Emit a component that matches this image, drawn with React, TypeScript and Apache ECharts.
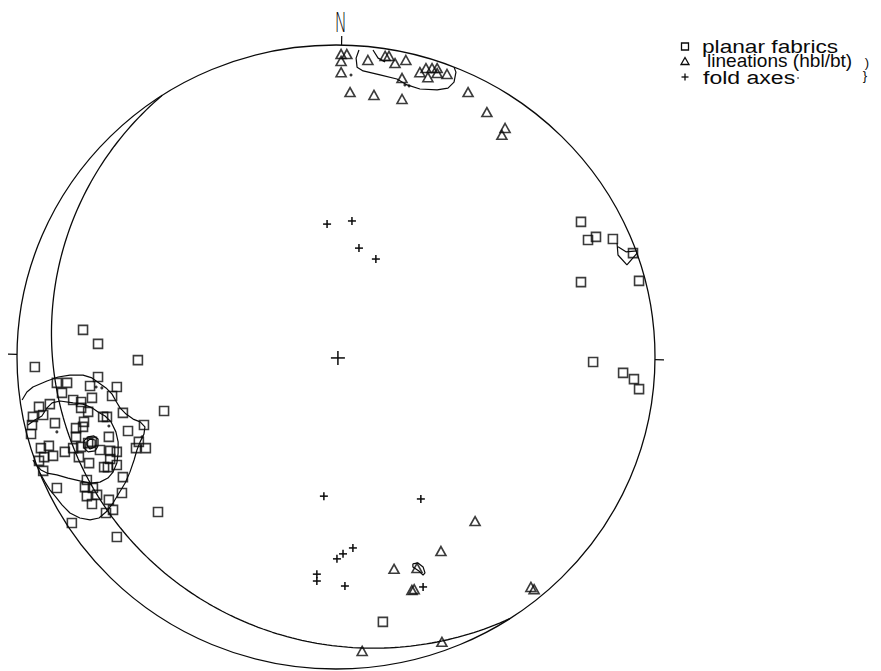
import { useEffect, useRef } from "react";
import * as echarts from "echarts";

// Projected stereonet coordinates, in percent of the primitive radius (x = east, y = north)
const planarFabrics: number[][] = [
  [-79.3, 8.7], [-74.6, 4.2], [-94.4, -3.2], [-62.1, -1.0], [-74.6, -6.4], [-87.5, -8.3], [-84.3, -8.3], [-77.1, -9.3], [-68.7, -9.6], [-85.9, -11.5],
  [-70.2, -12.5], [-76.5, -13.1], [-82.4, -13.8], [-79.9, -14.4], [-93.1, -16.0], [-89.7, -15.1], [-79.9, -16.3], [-77.7, -17.6], [-53.9, -17.3], [-66.8, -17.9],
  [-95.0, -19.2], [-91.8, -18.6], [-73.0, -19.2], [-71.8, -19.2], [-88.1, -21.2], [-79.0, -20.8], [-95.3, -21.8], [-81.5, -22.8], [-79.3, -22.4], [-65.2, -23.7],
  [-60.2, -21.8], [-95.6, -24.7], [-71.2, -25.6], [-81.5, -25.6], [-77.7, -27.6], [-76.5, -27.2], [-61.8, -27.2], [-92.5, -29.2], [-90.0, -28.5], [-85.0, -30.4],
  [-82.4, -29.2], [-79.9, -28.8], [-74.0, -29.8], [-70.8, -30.1], [-68.7, -30.4], [-62.7, -29.2], [-59.6, -29.2], [-91.5, -32.1], [-88.7, -31.7], [-80.6, -32.1],
  [-70.8, -32.7], [-93.1, -33.3], [-77.4, -34.0], [-72.7, -35.3], [-71.5, -35.3], [-68.7, -34.6], [-91.8, -36.5], [-66.8, -38.5], [-78.1, -39.4], [-87.5, -42.0],
  [-78.7, -41.7], [-76.2, -42.0], [-67.1, -43.6], [-78.1, -44.6], [-74.9, -44.2], [-76.5, -47.1], [-71.2, -45.8], [-69.9, -49.0], [-72.1, -50.0], [-55.8, -49.7],
  [-82.8, -53.2], [-68.7, -57.7],
  [76.8, 43.3], [79.0, 37.5], [81.5, 38.5], [86.8, 37.8], [93.1, 33.3], [95.0, 24.4], [76.8, 24.0], [80.6, -1.6], [90.0, -5.1], [93.4, -7.1], [95.0, -10.3],
  [14.7, -84.9],
];

const lineations: number[][] = [
  [1.6, 97.1], [3.4, 97.1], [1.6, 94.9], [1.6, 91.3], [10.0, 95.2], [15.4, 96.5], [16.6, 96.5], [18.5, 94.2], [21.9, 95.2], [26.3, 91.3],
  [28.2, 92.6], [30.1, 92.6], [31.7, 92.6], [28.8, 89.7], [31.7, 91.0], [34.8, 90.7], [20.7, 89.4], [4.4, 84.9], [11.9, 84.0], [20.7, 82.7],
  [41.4, 84.9], [47.3, 78.5], [53.0, 73.4], [52.0, 71.2],
  [43.6, -52.6], [32.9, -62.2], [18.2, -67.9], [25.4, -67.6], [23.8, -74.7], [24.5, -74.4], [61.1, -73.7], [62.1, -74.4], [8.2, -94.2], [33.2, -91.3],
];

const foldAxes: number[][] = [
  [-2.8, 42.6], [5.0, 43.6], [7.2, 34.9], [12.5, 31.4], [-3.8, -44.6], [5.3, -61.2], [2.2, -63.1], [0.3, -64.7],
  [-6.0, -69.6], [-6.0, -71.8], [2.8, -73.4], [26.6, -45.5], [27.3, -73.7],
];

const centreMark: number[][] = [[0.6, -0.3]];

// Plane drawn as a great circle (right-hand-rule strike, dip), degrees
const greatCircleStrike = 147;
const greatCircleDip = 8;

// Tick marks on the primitive, azimuths in degrees
const primitiveTicks: number[] = [1, 90.5, 270.5];
const northLabel = "N";

// Density contours (open lines and closed loops)
const contourTopOuter: number[][] = [
  [7.2, 98.4], [6.3, 95.8], [6.6, 92.9], [8.5, 91.7], [13.8, 90.4], [19.1, 89.1], [22.3, 87.2], [26.3, 85.9], [31.7, 85.6], [35.1, 86.2], [37.0, 88.1], [37.6, 91.3], [37.0, 92.9],
];
const contourTopInner: number[][] = [[11.6, 98.4], [13.2, 95.8], [15.4, 94.6]];
const contourRightA: number[][] = [[88.1, 36.5], [88.4, 32.7], [91.2, 29.5], [94.4, 33.3]];
const contourRightB: number[][] = [[88.4, 35.3], [90.9, 33.7], [94.4, 34.0]];
const contourBottomLoop: number[][] = [[24.1, -66.3], [25.7, -66.0], [27.3, -67.3], [27.9, -69.2], [27.3, -69.9], [26.0, -68.6], [24.1, -67.3]];
const contourLeftOuter: number[][] = [
  [-98.4, -13.8], [-96.9, -11.2], [-95.0, -9.6], [-90.6, -7.7], [-87.1, -6.4], [-83.4, -5.8], [-79.3, -5.8], [-76.5, -6.7], [-74.3, -8.3], [-72.1, -9.9],
  [-70.2, -11.9], [-69.0, -14.1], [-67.7, -16.3], [-65.8, -18.3], [-63.6, -19.9], [-61.4, -20.8], [-59.9, -22.4], [-60.2, -24.7], [-61.4, -27.2], [-62.4, -29.8],
  [-63.3, -33.0], [-64.6, -36.9], [-66.1, -40.4], [-68.0, -43.6], [-69.9, -46.8], [-72.1, -49.7], [-74.3, -51.6], [-77.1, -52.2], [-80.3, -51.6], [-83.4, -50.0],
  [-85.9, -47.4], [-87.8, -44.9], [-89.7, -42.6], [-91.2, -40.1], [-92.8, -37.2],
];
const contourLeftMiddle: number[][] = [
  [-96.6, -21.8], [-94.4, -20.2], [-92.2, -18.9], [-90.6, -16.3], [-89.0, -14.7], [-86.5, -14.1], [-82.4, -14.7], [-79.3, -15.1], [-76.5, -16.3], [-74.6, -17.6],
  [-72.4, -18.9], [-70.5, -20.8], [-69.0, -24.0], [-68.3, -27.2], [-68.3, -30.8], [-68.7, -34.0], [-69.9, -36.9], [-71.5, -38.8], [-74.0, -40.1], [-77.1, -40.4],
  [-80.3, -39.7], [-84.0, -38.8], [-87.5, -37.8], [-90.6, -37.2], [-92.5, -36.2], [-94.0, -34.6], [-95.0, -33.0],
];
const contourLeftInnerA: number[][] = [[-79.0, -26.9], [-77.7, -25.6], [-75.9, -25.3], [-74.6, -26.3], [-74.6, -28.5], [-75.5, -30.1], [-77.7, -30.4], [-79.0, -29.2]];
const contourLeftInnerB: number[][] = [[-78.1, -27.2], [-77.1, -26.3], [-75.5, -26.6], [-75.5, -28.8], [-77.1, -29.5], [-78.1, -28.2]];
const contourDots: number[][] = [[4.7, 90.4], [21.6, 87.2], [22.9, 86.9], [-75.2, -9.6], [-73.4, -9.9], [-71.2, -22.1], [-87.5, -24.0], [-60.8, -25.6]];

const openContours = [contourTopOuter, contourTopInner, contourRightA, contourRightB, contourLeftOuter, contourLeftMiddle];
const closedContours = [contourBottomLoop, contourLeftInnerA, contourLeftInnerB];

const legendLabels: string[] = ["planar fabrics", "lineations (hbl/bt)", "fold axes"];

function greatCirclePoints(strike: number, dip: number): number[][] {
  const rad = Math.PI / 180;
  const s = strike * rad;
  const dd = (strike + 90) * rad;
  const d = dip * rad;
  const sv = [Math.sin(s), Math.cos(s), 0];
  const dv = [Math.cos(d) * Math.sin(dd), Math.cos(d) * Math.cos(dd), Math.sin(d)];
  const pts: number[][] = [];
  for (let i = 0; i <= 180; i++) {
    const a = i * rad;
    const v = [0, 1, 2].map((k) => Math.cos(a) * sv[k] + Math.sin(a) * dv[k]);
    const plunge = Math.asin(Math.max(-1, Math.min(1, v[2])));
    const trend = Math.atan2(v[0], v[1]);
    const r = 100 * Math.tan(Math.PI / 4 - plunge / 2);
    pts.push([r * Math.sin(trend), r * Math.cos(trend)]);
  }
  return pts;
}

const INK = "#0a0a0a";

export default function App() {
  const ref = useRef<HTMLDivElement>(null);
  useEffect(() => {
    if (!ref.current) return;
    const chart = echarts.init(ref.current, undefined, { renderer: "svg" });

    const lineSeries = (data: number[][]) => ({
      type: "line",
      data,
      symbol: "none",
      showSymbol: false,
      silent: true,
      clip: false,
      lineStyle: { color: INK, width: 1.2 },
      emphasis: { disabled: true },
      z: 3,
    });

    const plusSeries = (data: number[][], arm: number) => ({
      type: "custom",
      data,
      encode: { x: 0, y: 1 },
      silent: true,
      z: 5,
      renderItem: (_p: any, api: any) => {
        const c = api.coord([api.value(0), api.value(1)]);
        return {
          type: "group",
          children: [
            { type: "line", shape: { x1: c[0] - arm, y1: c[1], x2: c[0] + arm, y2: c[1] }, style: { stroke: INK, lineWidth: 1.5 } },
            { type: "line", shape: { x1: c[0], y1: c[1] - arm, x2: c[0], y2: c[1] + arm }, style: { stroke: INK, lineWidth: 1.5 } },
          ],
        };
      },
    });

    const legendX = 685;
    const legendY = [46, 61, 77];
    const textX = [702, 707, 703];
    const textScale = [1.26, 1.06, 1.28];

    const option: any = {
      animation: false,
      grid: { left: 17, top: 45, width: 638, height: 624, containLabel: false },
      xAxis: { type: "value", min: -100, max: 100, show: false },
      yAxis: { type: "value", min: -100, max: 100, show: false },
      graphic: [
        { type: "rect", shape: { x: legendX - 3.5, y: legendY[0] - 3, width: 7, height: 7 }, style: { fill: "none", stroke: INK, lineWidth: 1.3 } },
        { type: "polygon", shape: { points: [[legendX, legendY[1] - 3.5], [legendX - 4, legendY[1] + 3.5], [legendX + 4, legendY[1] + 3.5]] }, style: { fill: "none", stroke: INK, lineWidth: 1.3 } },
        { type: "line", shape: { x1: legendX - 3.5, y1: legendY[2], x2: legendX + 3.5, y2: legendY[2] }, style: { stroke: INK, lineWidth: 1.3 } },
        { type: "line", shape: { x1: legendX, y1: legendY[2] - 3.5, x2: legendX, y2: legendY[2] + 3.5 }, style: { stroke: INK, lineWidth: 1.3 } },
        ...legendLabels.map((t, i) => ({
          type: "text",
          x: textX[i],
          y: legendY[i],
          scaleX: textScale[i],
          style: {
            text: t,
            fill: INK,
            font: '18px "Liberation Sans", Arial, sans-serif',
            textAlign: "left",
            textVerticalAlign: "middle",
            align: "left",
            verticalAlign: "middle",
          },
        })),
        { type: "text", x: 867, y: legendY[1] + 1, style: { text: ")", fill: INK, font: '13px "Liberation Sans", sans-serif', textAlign: "center", textVerticalAlign: "middle", align: "center", verticalAlign: "middle" } },
        { type: "text", x: 865, y: legendY[2] - 2, style: { text: "}", fill: INK, font: '13px "Liberation Sans", sans-serif', textAlign: "center", textVerticalAlign: "middle", align: "center", verticalAlign: "middle" } },
        { type: "circle", shape: { cx: 798, cy: legendY[2] + 1, r: 0.8 }, style: { fill: "#555" } },
      ],
      series: [
        {
          type: "custom",
          data: [[0, 0]],
          encode: { x: 0, y: 1 },
          silent: true,
          z: 2,
          renderItem: (_p: any, api: any) => {
            const c = api.coord([0, 0]);
            const e = api.coord([100, 0]);
            const n = api.coord([0, 100]);
            const rx = e[0] - c[0];
            const ry = c[1] - n[1];
            const children: any[] = [
              { type: "ellipse", shape: { cx: c[0], cy: c[1], rx, ry }, style: { fill: "none", stroke: INK, lineWidth: 1.3 } },
            ];
            primitiveTicks.forEach((az, i) => {
              const a = (az * Math.PI) / 180;
              const p = api.coord([100 * Math.sin(a), 100 * Math.cos(a)]);
              const dx = p[0] - c[0];
              const dy = p[1] - c[1];
              const len = Math.sqrt(dx * dx + dy * dy);
              const ux = dx / len;
              const uy = dy / len;
              children.push({ type: "line", shape: { x1: p[0], y1: p[1], x2: p[0] + ux * 9, y2: p[1] + uy * 9 }, style: { stroke: INK, lineWidth: 1.2 } });
              if (i === 0) {
                children.push({
                  type: "text",
                  x: p[0] + ux * 9 - 1,
                  y: p[1] + uy * 9 - 13,
                  scaleX: 0.62,
                  style: {
                    text: northLabel,
                    fill: INK,
                    font: '200 26px "DejaVu Sans", sans-serif',
                    textAlign: "center",
                    textVerticalAlign: "middle",
                    align: "center",
                    verticalAlign: "middle",
                  },
                });
              }
            });
            return { type: "group", children };
          },
        },
        { ...lineSeries(greatCirclePoints(greatCircleStrike, greatCircleDip)), lineStyle: { color: INK, width: 1.3 } },
        ...openContours.map((c) => lineSeries(c)),
        ...closedContours.map((c) => lineSeries([...c, c[0]])),
        {
          type: "scatter",
          data: contourDots,
          symbol: "circle",
          symbolSize: 3,
          silent: true,
          itemStyle: { color: INK },
          z: 3,
        },
        {
          type: "scatter",
          data: planarFabrics,
          symbol: "rect",
          symbolSize: 9,
          silent: true,
          itemStyle: { color: "rgba(0,0,0,0)", borderColor: INK, borderWidth: 1.6 },
          z: 4,
        },
        {
          type: "scatter",
          data: lineations,
          symbol: "triangle",
          symbolSize: [10, 9],
          silent: true,
          itemStyle: { color: "rgba(0,0,0,0)", borderColor: INK, borderWidth: 1.6 },
          z: 4,
        },
        plusSeries(foldAxes, 4),
        plusSeries(centreMark, 7),
      ],
    };
    chart.setOption(option);
    return () => chart.dispose();
  }, []);

  return (
    <div
      ref={ref}
      style={{ position: "fixed", left: 0, top: 0, width: 881, height: 671, background: "#fff" }}
    />
  );
}
